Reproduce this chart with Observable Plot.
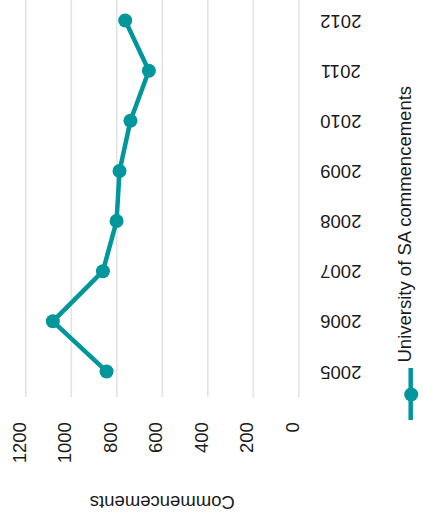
<!DOCTYPE html>
<html>
<head>
<meta charset="utf-8">
<script src="https://cdn.jsdelivr.net/npm/d3@7"></script>
<script src="https://cdn.jsdelivr.net/npm/@observablehq/plot@0.6"></script>
<style>
  html, body { margin: 0; padding: 0; background: #ffffff; }
  #chart { width: 423px; height: 522px; overflow: hidden; }
</style>
</head>
<body>
<div id="chart"></div>
<script>
const years = [2005, 2006, 2007, 2008, 2009, 2010, 2011, 2012];
const commencements = [845, 1081, 861, 801, 788, 740, 659, 763];
const valueTicks = [0, 200, 400, 600, 800, 1000, 1200];
const seriesLabel = "University of SA commencements";
const axisTitle = "Commencements";

const data = years.map((y, i) => ({year: y, value: commencements[i]}));
const teal = "#00979c";
const font = "'Liberation Sans', Arial, sans-serif";

const W = 423, H = 522;
const mL = 25.3, mR = 124.7, mT = 0, mB = 125;

const chart = Plot.plot({
  width: W,
  height: H,
  marginLeft: mL,
  marginRight: mR,
  marginTop: mT,
  marginBottom: mB,
  style: {fontFamily: font, fontSize: "18.5px", background: "#ffffff", color: "#1a1a1a", overflow: "visible"},
  x: {domain: [0, 1200], reverse: true, axis: null},
  y: {domain: [2004.48, 2012.4], axis: null},
  marks: [
    Plot.ruleX(valueTicks, {x: d => d, stroke: "#e3e3e3", strokeWidth: 1.6}),
    Plot.line(data, {x: "value", y: "year", stroke: teal, strokeWidth: 4.5, strokeLinejoin: "round"}),
    Plot.dot(data, {x: "value", y: "year", r: 7, fill: teal, stroke: "none"}),
    Plot.text(valueTicks, {x: d => d, frameAnchor: "bottom", dy: 24.7, rotate: -90, textAnchor: "end", text: d => String(d), fill: "#1a1a1a"}),
    Plot.text(years, {y: d => d, frameAnchor: "right", dx: 42, rotate: 180, textAnchor: "middle", text: d => String(d), fill: "#1a1a1a"}),
    Plot.text([axisTitle], {frameAnchor: "bottom", dy: 98, rotate: 180, text: d => d, fill: "#1a1a1a"}),
    Plot.dot([seriesLabel], {frameAnchor: "bottom-right", dx: 112.4, dy: -3, r: 7, fill: teal, stroke: "none"}),
    Plot.text([seriesLabel], {frameAnchor: "bottom-right", dx: 112.6, dy: -35, rotate: -90, textAnchor: "start", text: d => d, fill: "#1a1a1a"})
  ]
});

// legend key line (vertical, through the legend dot)
const frameRight = W - mR, frameBottom = H - mB;
d3.select(chart).append("line")
  .attr("x1", frameRight + 112.4).attr("x2", frameRight + 112.4)
  .attr("y1", frameBottom - 29).attr("y2", frameBottom + 23)
  .attr("stroke", teal).attr("stroke-width", 4.5);

document.getElementById("chart").appendChild(chart);
</script>
</body>
</html>
